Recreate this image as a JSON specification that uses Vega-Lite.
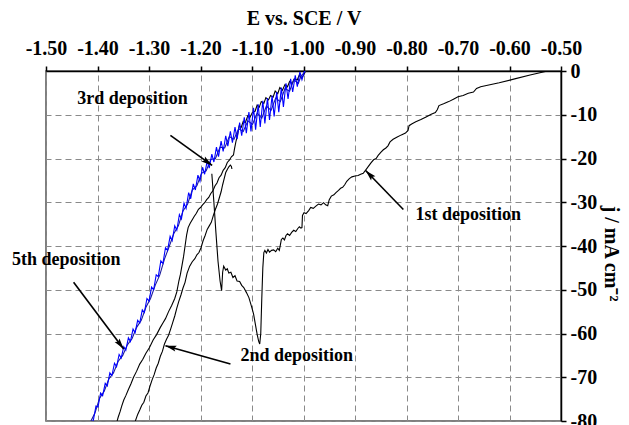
{
  "$schema": "https://vega.github.io/schema/vega-lite/v6.json",
  "autosize": "none",
  "width": 515,
  "height": 350,
  "padding": {"left": 46, "top": 71, "right": 68, "bottom": 4},
  "background": "white",
  "config": {
    "view": {"stroke": "#555555", "strokeWidth": 1.5},
    "axis": {
      "labelFont": "Liberation Serif", "labelFontSize": 20, "labelFontWeight": "bold", "labelColor": "black",
      "titleFont": "Liberation Serif", "titleFontSize": 20, "titleFontWeight": "bold", "titleColor": "black",
      "domainColor": "black", "domainWidth": 1.5, "tickColor": "black", "tickWidth": 1.5, "tickSize": 5,
      "grid": true, "gridColor": "#8a8a8a", "gridDash": [6, 4], "gridWidth": 1, "labelOverlap": false, "labelFlush": false, "labelBound": false
    }
  },
  "datasets": {
    "curves": [
      {"s":"1st","i":0,"E":-1.178,"j":-23.5},{"s":"1st","i":1,"E":-1.174,"j":-30},{"s":"1st","i":2,"E":-1.170,"j":-37},{"s":"1st","i":3,"E":-1.166,"j":-43.5},{"s":"1st","i":4,"E":-1.162,"j":-48},{"s":"1st","i":5,"E":-1.159,"j":-50.2},{"s":"1st","i":6,"E":-1.157,"j":-46},{"s":"1st","i":7,"E":-1.155,"j":-44.6},{"s":"1st","i":8,"E":-1.151,"j":-45.5},{"s":"1st","i":9,"E":-1.148,"j":-45.2},{"s":"1st","i":10,"E":-1.145,"j":-46.2},{"s":"1st","i":11,"E":-1.141,"j":-46.0},{"s":"1st","i":12,"E":-1.137,"j":-47.2},{"s":"1st","i":13,"E":-1.133,"j":-46.8},{"s":"1st","i":14,"E":-1.129,"j":-48.0},{"s":"1st","i":15,"E":-1.124,"j":-48.1},{"s":"1st","i":16,"E":-1.120,"j":-49.0},{"s":"1st","i":17,"E":-1.116,"j":-49.5},{"s":"1st","i":18,"E":-1.111,"j":-50.6},{"s":"1st","i":19,"E":-1.106,"j":-51.8},{"s":"1st","i":20,"E":-1.101,"j":-53.8},{"s":"1st","i":21,"E":-1.097,"j":-55.5},{"s":"1st","i":22,"E":-1.093,"j":-58.2},{"s":"1st","i":23,"E":-1.090,"j":-60.2},{"s":"1st","i":24,"E":-1.087,"j":-61.8},{"s":"1st","i":25,"E":-1.085,"j":-62.4},{"s":"1st","i":26,"E":-1.083,"j":-60.0},{"s":"1st","i":27,"E":-1.081,"j":-52},{"s":"1st","i":28,"E":-1.079,"j":-45},{"s":"1st","i":29,"E":-1.077,"j":-41.5},{"s":"1st","i":30,"E":-1.075,"j":-41.0},{"s":"1st","i":31,"E":-1.072,"j":-41.6},{"s":"1st","i":32,"E":-1.069,"j":-40.8},{"s":"1st","i":33,"E":-1.066,"j":-41.4},{"s":"1st","i":34,"E":-1.062,"j":-41.0},{"s":"1st","i":35,"E":-1.058,"j":-40.9},{"s":"1st","i":36,"E":-1.054,"j":-41.3},{"s":"1st","i":37,"E":-1.050,"j":-40.5},{"s":"1st","i":38,"E":-1.047,"j":-41.0},{"s":"1st","i":39,"E":-1.045,"j":-39.8},{"s":"1st","i":40,"E":-1.043,"j":-38.5},{"s":"1st","i":41,"E":-1.040,"j":-38.2},{"s":"1st","i":42,"E":-1.037,"j":-38.6},{"s":"1st","i":43,"E":-1.034,"j":-37.6},{"s":"1st","i":44,"E":-1.031,"j":-37.2},{"s":"1st","i":45,"E":-1.027,"j":-37.6},{"s":"1st","i":46,"E":-1.023,"j":-36.9},{"s":"1st","i":47,"E":-1.019,"j":-36.4},{"s":"1st","i":48,"E":-1.015,"j":-36.7},{"s":"1st","i":49,"E":-1.011,"j":-36.0},{"s":"1st","i":50,"E":-1.008,"j":-35.6},{"s":"1st","i":51,"E":-1.005,"j":-35.9},{"s":"1st","i":52,"E":-1.003,"j":-35.8},{"s":"1st","i":53,"E":-1.002,"j":-33.0},{"s":"1st","i":54,"E":-0.999,"j":-32.4},{"s":"1st","i":55,"E":-0.995,"j":-32.6},{"s":"1st","i":56,"E":-0.990,"j":-31.9},{"s":"1st","i":57,"E":-0.986,"j":-31.2},{"s":"1st","i":58,"E":-0.981,"j":-31.4},{"s":"1st","i":59,"E":-0.976,"j":-30.9},{"s":"1st","i":60,"E":-0.971,"j":-30.4},{"s":"1st","i":61,"E":-0.966,"j":-30.6},{"s":"1st","i":62,"E":-0.961,"j":-30.1},{"s":"1st","i":63,"E":-0.957,"j":-30.6},{"s":"1st","i":64,"E":-0.953,"j":-30.8},{"s":"1st","i":65,"E":-0.950,"j":-29.4},{"s":"1st","i":66,"E":-0.946,"j":-28.6},{"s":"1st","i":67,"E":-0.941,"j":-28.3},{"s":"1st","i":68,"E":-0.937,"j":-27.8},{"s":"1st","i":69,"E":-0.932,"j":-27.3},{"s":"1st","i":70,"E":-0.928,"j":-26.8},{"s":"1st","i":71,"E":-0.924,"j":-26.6},{"s":"1st","i":72,"E":-0.920,"j":-26.0},{"s":"1st","i":73,"E":-0.916,"j":-25.2},{"s":"1st","i":74,"E":-0.911,"j":-24.6},{"s":"1st","i":75,"E":-0.906,"j":-24.2},{"s":"1st","i":76,"E":-0.900,"j":-24.0},{"s":"1st","i":77,"E":-0.894,"j":-23.9},{"s":"1st","i":78,"E":-0.889,"j":-23.6},{"s":"1st","i":79,"E":-0.884,"j":-23.4},{"s":"1st","i":80,"E":-0.879,"j":-22.6},{"s":"1st","i":81,"E":-0.874,"j":-21.8},{"s":"1st","i":82,"E":-0.869,"j":-21.0},{"s":"1st","i":83,"E":-0.864,"j":-20.3},{"s":"1st","i":84,"E":-0.859,"j":-20.0},{"s":"1st","i":85,"E":-0.855,"j":-19.3},{"s":"1st","i":86,"E":-0.850,"j":-18.6},{"s":"1st","i":87,"E":-0.845,"j":-18.0},{"s":"1st","i":88,"E":-0.840,"j":-17.6},{"s":"1st","i":89,"E":-0.836,"j":-17.1},{"s":"1st","i":90,"E":-0.832,"j":-16.2},{"s":"1st","i":91,"E":-0.826,"j":-15.6},{"s":"1st","i":92,"E":-0.818,"j":-15.1},{"s":"1st","i":93,"E":-0.810,"j":-14.6},{"s":"1st","i":94,"E":-0.802,"j":-14.2},{"s":"1st","i":95,"E":-0.797,"j":-13.6},{"s":"1st","i":96,"E":-0.795,"j":-12.5},{"s":"1st","i":97,"E":-0.790,"j":-12.1},{"s":"1st","i":98,"E":-0.782,"j":-11.6},{"s":"1st","i":99,"E":-0.772,"j":-11.1},{"s":"1st","i":100,"E":-0.762,"j":-10.5},{"s":"1st","i":101,"E":-0.752,"j":-9.9},{"s":"1st","i":102,"E":-0.744,"j":-9.5},{"s":"1st","i":103,"E":-0.740,"j":-8.8},{"s":"1st","i":104,"E":-0.737,"j":-7.9},{"s":"1st","i":105,"E":-0.728,"j":-7.5},{"s":"1st","i":106,"E":-0.718,"j":-7.0},{"s":"1st","i":107,"E":-0.708,"j":-6.4},{"s":"1st","i":108,"E":-0.700,"j":-5.9},{"s":"1st","i":109,"E":-0.690,"j":-5.6},{"s":"1st","i":110,"E":-0.680,"j":-5.1},{"s":"1st","i":111,"E":-0.670,"j":-4.8},{"s":"1st","i":112,"E":-0.664,"j":-4.0},{"s":"1st","i":113,"E":-0.656,"j":-3.6},{"s":"1st","i":114,"E":-0.620,"j":-2.7},{"s":"1st","i":115,"E":-0.590,"j":-1.8},{"s":"1st","i":116,"E":-0.560,"j":-0.9},{"s":"1st","i":117,"E":-0.526,"j":0},

      {"s":"2nd","i":0,"E":-1.328,"j":-80.5},{"s":"2nd","i":1,"E":-1.322,"j":-78.5},{"s":"2nd","i":2,"E":-1.318,"j":-77.5},{"s":"2nd","i":3,"E":-1.314,"j":-76.4},{"s":"2nd","i":4,"E":-1.310,"j":-75.7},{"s":"2nd","i":5,"E":-1.306,"j":-74.3},{"s":"2nd","i":6,"E":-1.302,"j":-73.6},{"s":"2nd","i":7,"E":-1.298,"j":-72.0},{"s":"2nd","i":8,"E":-1.294,"j":-70.6},{"s":"2nd","i":9,"E":-1.290,"j":-69.4},{"s":"2nd","i":10,"E":-1.286,"j":-67.9},{"s":"2nd","i":11,"E":-1.282,"j":-66.8},{"s":"2nd","i":12,"E":-1.278,"j":-65.2},{"s":"2nd","i":13,"E":-1.274,"j":-64.1},{"s":"2nd","i":14,"E":-1.270,"j":-62.4},{"s":"2nd","i":15,"E":-1.266,"j":-61.3},{"s":"2nd","i":16,"E":-1.262,"j":-60.4},{"s":"2nd","i":17,"E":-1.258,"j":-59.0},{"s":"2nd","i":18,"E":-1.254,"j":-57.5},{"s":"2nd","i":19,"E":-1.250,"j":-56.0},{"s":"2nd","i":20,"E":-1.246,"j":-54.2},{"s":"2nd","i":21,"E":-1.242,"j":-52.6},{"s":"2nd","i":22,"E":-1.238,"j":-51.2},{"s":"2nd","i":23,"E":-1.234,"j":-49.6},{"s":"2nd","i":24,"E":-1.230,"j":-48.3},{"s":"2nd","i":25,"E":-1.226,"j":-46.2},{"s":"2nd","i":26,"E":-1.221,"j":-44.6},{"s":"2nd","i":27,"E":-1.216,"j":-43.6},{"s":"2nd","i":28,"E":-1.211,"j":-42.9},{"s":"2nd","i":29,"E":-1.207,"j":-42.0},{"s":"2nd","i":30,"E":-1.203,"j":-41.5},{"s":"2nd","i":31,"E":-1.199,"j":-40.4},{"s":"2nd","i":32,"E":-1.195,"j":-38.8},{"s":"2nd","i":33,"E":-1.191,"j":-37.6},{"s":"2nd","i":34,"E":-1.187,"j":-36.2},{"s":"2nd","i":35,"E":-1.183,"j":-35.4},{"s":"2nd","i":36,"E":-1.179,"j":-34.6},{"s":"2nd","i":37,"E":-1.175,"j":-33.0},{"s":"2nd","i":38,"E":-1.171,"j":-31.6},{"s":"2nd","i":39,"E":-1.167,"j":-30.4},{"s":"2nd","i":40,"E":-1.163,"j":-28.8},{"s":"2nd","i":41,"E":-1.160,"j":-27.6},{"s":"2nd","i":42,"E":-1.157,"j":-26.0},{"s":"2nd","i":43,"E":-1.154,"j":-24.6},{"s":"2nd","i":44,"E":-1.151,"j":-23.2},{"s":"2nd","i":45,"E":-1.148,"j":-22.5},{"s":"2nd","i":46,"E":-1.145,"j":-21.9},{"s":"2nd","i":47,"E":-1.142,"j":-21.5},{"s":"2nd","i":48,"E":-1.140,"j":-21.8},{"s":"2nd","i":49,"E":-1.139,"j":-22.4},

      {"s":"3rd","i":0,"E":-0.996,"j":0},{"s":"3rd","i":1,"E":-0.999,"j":-0.8},{"s":"3rd","i":2,"E":-1.004,"j":-1.6},{"s":"3rd","i":3,"E":-1.008,"j":-0.9},{"s":"3rd","i":4,"E":-1.012,"j":-2.0},{"s":"3rd","i":5,"E":-1.018,"j":-1.8},{"s":"3rd","i":6,"E":-1.022,"j":-2.9},{"s":"3rd","i":7,"E":-1.027,"j":-2.4},{"s":"3rd","i":8,"E":-1.031,"j":-3.6},{"s":"3rd","i":9,"E":-1.036,"j":-3.1},{"s":"3rd","i":10,"E":-1.041,"j":-4.4},{"s":"3rd","i":11,"E":-1.046,"j":-3.8},{"s":"3rd","i":12,"E":-1.050,"j":-5.2},{"s":"3rd","i":13,"E":-1.055,"j":-4.6},{"s":"3rd","i":14,"E":-1.059,"j":-6.0},{"s":"3rd","i":15,"E":-1.064,"j":-5.6},{"s":"3rd","i":16,"E":-1.068,"j":-6.6},{"s":"3rd","i":17,"E":-1.073,"j":-6.1},{"s":"3rd","i":18,"E":-1.077,"j":-7.4},{"s":"3rd","i":19,"E":-1.082,"j":-7.0},{"s":"3rd","i":20,"E":-1.086,"j":-8.3},{"s":"3rd","i":21,"E":-1.090,"j":-7.8},{"s":"3rd","i":22,"E":-1.094,"j":-9.2},{"s":"3rd","i":23,"E":-1.099,"j":-9.4},{"s":"3rd","i":24,"E":-1.104,"j":-10.6},{"s":"3rd","i":25,"E":-1.108,"j":-10.2},{"s":"3rd","i":26,"E":-1.113,"j":-11.8},{"s":"3rd","i":27,"E":-1.117,"j":-11.5},{"s":"3rd","i":28,"E":-1.121,"j":-12.9},{"s":"3rd","i":29,"E":-1.125,"j":-12.6},{"s":"3rd","i":30,"E":-1.128,"j":-14.5},{"s":"3rd","i":31,"E":-1.131,"j":-16.0},{"s":"3rd","i":32,"E":-1.134,"j":-17.8},{"s":"3rd","i":33,"E":-1.136,"j":-19.2},{"s":"3rd","i":34,"E":-1.140,"j":-19.6},{"s":"3rd","i":35,"E":-1.144,"j":-20.4},{"s":"3rd","i":36,"E":-1.148,"j":-20.9},{"s":"3rd","i":37,"E":-1.152,"j":-22.1},{"s":"3rd","i":38,"E":-1.156,"j":-22.7},{"s":"3rd","i":39,"E":-1.160,"j":-23.8},{"s":"3rd","i":40,"E":-1.164,"j":-24.4},{"s":"3rd","i":41,"E":-1.168,"j":-25.6},{"s":"3rd","i":42,"E":-1.172,"j":-26.3},{"s":"3rd","i":43,"E":-1.176,"j":-27.4},{"s":"3rd","i":44,"E":-1.180,"j":-28.0},{"s":"3rd","i":45,"E":-1.184,"j":-28.9},{"s":"3rd","i":46,"E":-1.188,"j":-29.4},{"s":"3rd","i":47,"E":-1.192,"j":-30.1},{"s":"3rd","i":48,"E":-1.196,"j":-30.6},{"s":"3rd","i":49,"E":-1.200,"j":-31.2},{"s":"3rd","i":50,"E":-1.204,"j":-31.6},{"s":"3rd","i":51,"E":-1.208,"j":-32.5},{"s":"3rd","i":52,"E":-1.212,"j":-33.2},{"s":"3rd","i":53,"E":-1.216,"j":-34.0},{"s":"3rd","i":54,"E":-1.220,"j":-34.8},{"s":"3rd","i":55,"E":-1.224,"j":-35.8},{"s":"3rd","i":56,"E":-1.227,"j":-37.5},{"s":"3rd","i":57,"E":-1.230,"j":-40.0},{"s":"3rd","i":58,"E":-1.233,"j":-42.5},{"s":"3rd","i":59,"E":-1.236,"j":-44.5},{"s":"3rd","i":60,"E":-1.239,"j":-46.5},{"s":"3rd","i":61,"E":-1.242,"j":-48.0},{"s":"3rd","i":62,"E":-1.246,"j":-50.5},{"s":"3rd","i":63,"E":-1.250,"j":-52.0},{"s":"3rd","i":64,"E":-1.256,"j":-53.6},{"s":"3rd","i":65,"E":-1.262,"j":-55.0},{"s":"3rd","i":66,"E":-1.268,"j":-56.6},{"s":"3rd","i":67,"E":-1.273,"j":-57.6},{"s":"3rd","i":68,"E":-1.278,"j":-58.6},{"s":"3rd","i":69,"E":-1.285,"j":-60.2},{"s":"3rd","i":70,"E":-1.292,"j":-61.5},{"s":"3rd","i":71,"E":-1.299,"j":-63.2},{"s":"3rd","i":72,"E":-1.306,"j":-64.5},{"s":"3rd","i":73,"E":-1.312,"j":-65.9},{"s":"3rd","i":74,"E":-1.318,"j":-67.0},{"s":"3rd","i":75,"E":-1.324,"j":-68.6},{"s":"3rd","i":76,"E":-1.330,"j":-70.0},{"s":"3rd","i":77,"E":-1.335,"j":-71.5},{"s":"3rd","i":78,"E":-1.340,"j":-72.8},{"s":"3rd","i":79,"E":-1.345,"j":-74.2},{"s":"3rd","i":80,"E":-1.349,"j":-75.2},{"s":"3rd","i":81,"E":-1.353,"j":-76.6},{"s":"3rd","i":82,"E":-1.356,"j":-77.8},{"s":"3rd","i":83,"E":-1.360,"j":-79.2},{"s":"3rd","i":84,"E":-1.363,"j":-80.5},

      {"s":"4th","i":0,"E":-0.996,"j":0},{"s":"4th","i":1,"E":-1.005,"j":-1.2},{"s":"4th","i":2,"E":-1.010,"j":-2.8},{"s":"4th","i":3,"E":-1.019,"j":-2.0},{"s":"4th","i":4,"E":-1.027,"j":-4.6},{"s":"4th","i":5,"E":-1.036,"j":-4.0},{"s":"4th","i":6,"E":-1.045,"j":-7.0},{"s":"4th","i":7,"E":-1.054,"j":-6.2},{"s":"4th","i":8,"E":-1.063,"j":-9.0},{"s":"4th","i":9,"E":-1.072,"j":-8.0},{"s":"4th","i":10,"E":-1.081,"j":-10.8},{"s":"4th","i":11,"E":-1.090,"j":-9.6},{"s":"4th","i":12,"E":-1.099,"j":-12.2},{"s":"4th","i":13,"E":-1.108,"j":-11.4},{"s":"4th","i":14,"E":-1.117,"j":-13.8},{"s":"4th","i":15,"E":-1.126,"j":-13.2},{"s":"4th","i":16,"E":-1.135,"j":-15.6},{"s":"4th","i":17,"E":-1.144,"j":-15.0},{"s":"4th","i":18,"E":-1.153,"j":-17.6},{"s":"4th","i":19,"E":-1.162,"j":-17.4},{"s":"4th","i":20,"E":-1.171,"j":-20.0},{"s":"4th","i":21,"E":-1.180,"j":-20.2},{"s":"4th","i":22,"E":-1.189,"j":-22.8},{"s":"4th","i":23,"E":-1.198,"j":-23.4},{"s":"4th","i":24,"E":-1.207,"j":-26.2},{"s":"4th","i":25,"E":-1.216,"j":-27.2},{"s":"4th","i":26,"E":-1.225,"j":-30.4},{"s":"4th","i":27,"E":-1.234,"j":-32.0},{"s":"4th","i":28,"E":-1.243,"j":-35.4},{"s":"4th","i":29,"E":-1.252,"j":-37.2},{"s":"4th","i":30,"E":-1.261,"j":-40.2},{"s":"4th","i":31,"E":-1.270,"j":-43.0},{"s":"4th","i":32,"E":-1.279,"j":-46.6},{"s":"4th","i":33,"E":-1.288,"j":-49.0},{"s":"4th","i":34,"E":-1.297,"j":-52.0},{"s":"4th","i":35,"E":-1.306,"j":-54.0},{"s":"4th","i":36,"E":-1.315,"j":-57.0},{"s":"4th","i":37,"E":-1.324,"j":-58.6},{"s":"4th","i":38,"E":-1.333,"j":-61.2},{"s":"4th","i":39,"E":-1.342,"j":-62.6},{"s":"4th","i":40,"E":-1.351,"j":-65.0},{"s":"4th","i":41,"E":-1.360,"j":-66.4},{"s":"4th","i":42,"E":-1.369,"j":-69.0},{"s":"4th","i":43,"E":-1.378,"j":-70.4},{"s":"4th","i":44,"E":-1.387,"j":-73.2},{"s":"4th","i":45,"E":-1.396,"j":-74.8},{"s":"4th","i":46,"E":-1.405,"j":-78.2},{"s":"4th","i":47,"E":-1.412,"j":-79.8},{"s":"4th","i":48,"E":-1.416,"j":-81},

      {"s":"5th","i":0,"E":-0.998,"j":0},{"s":"5th","i":1,"E":-1.003,"j":-2.0},{"s":"5th","i":2,"E":-1.007,"j":-0.2},{"s":"5th","i":3,"E":-1.012,"j":-3.6},{"s":"5th","i":4,"E":-1.016,"j":-1.0},{"s":"5th","i":5,"E":-1.021,"j":-4.8},{"s":"5th","i":6,"E":-1.025,"j":-1.8},{"s":"5th","i":7,"E":-1.030,"j":-6.4},{"s":"5th","i":8,"E":-1.034,"j":-2.8},{"s":"5th","i":9,"E":-1.039,"j":-8.2},{"s":"5th","i":10,"E":-1.043,"j":-3.8},{"s":"5th","i":11,"E":-1.048,"j":-9.4},{"s":"5th","i":12,"E":-1.052,"j":-4.8},{"s":"5th","i":13,"E":-1.057,"j":-10.4},{"s":"5th","i":14,"E":-1.061,"j":-5.6},{"s":"5th","i":15,"E":-1.066,"j":-11.2},{"s":"5th","i":16,"E":-1.070,"j":-6.2},{"s":"5th","i":17,"E":-1.075,"j":-12.0},{"s":"5th","i":18,"E":-1.079,"j":-6.8},{"s":"5th","i":19,"E":-1.084,"j":-12.8},{"s":"5th","i":20,"E":-1.088,"j":-7.6},{"s":"5th","i":21,"E":-1.093,"j":-13.4},{"s":"5th","i":22,"E":-1.097,"j":-8.4},{"s":"5th","i":23,"E":-1.102,"j":-13.8},{"s":"5th","i":24,"E":-1.106,"j":-9.4},{"s":"5th","i":25,"E":-1.111,"j":-14.2},{"s":"5th","i":26,"E":-1.115,"j":-10.6},{"s":"5th","i":27,"E":-1.120,"j":-14.8},{"s":"5th","i":28,"E":-1.124,"j":-11.8},{"s":"5th","i":29,"E":-1.129,"j":-15.6},{"s":"5th","i":30,"E":-1.133,"j":-12.8},{"s":"5th","i":31,"E":-1.138,"j":-16.4},{"s":"5th","i":32,"E":-1.142,"j":-13.8},{"s":"5th","i":33,"E":-1.147,"j":-17.2},{"s":"5th","i":34,"E":-1.151,"j":-14.8},{"s":"5th","i":35,"E":-1.156,"j":-18.4},{"s":"5th","i":36,"E":-1.160,"j":-16.0},{"s":"5th","i":37,"E":-1.165,"j":-19.6},{"s":"5th","i":38,"E":-1.169,"j":-17.4},{"s":"5th","i":39,"E":-1.174,"j":-20.8},{"s":"5th","i":40,"E":-1.178,"j":-19.0},{"s":"5th","i":41,"E":-1.183,"j":-22.2},{"s":"5th","i":42,"E":-1.187,"j":-20.6},{"s":"5th","i":43,"E":-1.192,"j":-23.6},{"s":"5th","i":44,"E":-1.196,"j":-22.0},{"s":"5th","i":45,"E":-1.201,"j":-25.2},{"s":"5th","i":46,"E":-1.205,"j":-23.8},{"s":"5th","i":47,"E":-1.210,"j":-27.2},{"s":"5th","i":48,"E":-1.214,"j":-25.8},{"s":"5th","i":49,"E":-1.219,"j":-29.2},{"s":"5th","i":50,"E":-1.223,"j":-27.8},{"s":"5th","i":51,"E":-1.228,"j":-31.4},{"s":"5th","i":52,"E":-1.232,"j":-30.2},{"s":"5th","i":53,"E":-1.237,"j":-33.8},{"s":"5th","i":54,"E":-1.241,"j":-32.8},{"s":"5th","i":55,"E":-1.246,"j":-36.4},{"s":"5th","i":56,"E":-1.250,"j":-35.4},{"s":"5th","i":57,"E":-1.255,"j":-38.8},{"s":"5th","i":58,"E":-1.259,"j":-37.8},{"s":"5th","i":59,"E":-1.264,"j":-41.0},{"s":"5th","i":60,"E":-1.268,"j":-40.4},{"s":"5th","i":61,"E":-1.273,"j":-44.0},{"s":"5th","i":62,"E":-1.277,"j":-43.4},{"s":"5th","i":63,"E":-1.282,"j":-47.0},{"s":"5th","i":64,"E":-1.286,"j":-46.6},{"s":"5th","i":65,"E":-1.291,"j":-50.0},{"s":"5th","i":66,"E":-1.295,"j":-49.4},{"s":"5th","i":67,"E":-1.300,"j":-52.6},{"s":"5th","i":68,"E":-1.304,"j":-52.0},{"s":"5th","i":69,"E":-1.309,"j":-55.2},{"s":"5th","i":70,"E":-1.313,"j":-54.6},{"s":"5th","i":71,"E":-1.318,"j":-57.6},{"s":"5th","i":72,"E":-1.322,"j":-57.0},{"s":"5th","i":73,"E":-1.327,"j":-59.8},{"s":"5th","i":74,"E":-1.331,"j":-59.0},{"s":"5th","i":75,"E":-1.336,"j":-61.8},{"s":"5th","i":76,"E":-1.340,"j":-61.0},{"s":"5th","i":77,"E":-1.345,"j":-63.8},{"s":"5th","i":78,"E":-1.349,"j":-63.0},{"s":"5th","i":79,"E":-1.354,"j":-65.6},{"s":"5th","i":80,"E":-1.358,"j":-64.8},{"s":"5th","i":81,"E":-1.363,"j":-67.6},{"s":"5th","i":82,"E":-1.367,"j":-66.8},{"s":"5th","i":83,"E":-1.372,"j":-69.6},{"s":"5th","i":84,"E":-1.376,"j":-69.0},{"s":"5th","i":85,"E":-1.381,"j":-72.0},{"s":"5th","i":86,"E":-1.385,"j":-71.4},{"s":"5th","i":87,"E":-1.390,"j":-74.2},{"s":"5th","i":88,"E":-1.394,"j":-73.6},{"s":"5th","i":89,"E":-1.399,"j":-76.8},{"s":"5th","i":90,"E":-1.403,"j":-76.6},{"s":"5th","i":91,"E":-1.408,"j":-79.8},{"s":"5th","i":92,"E":-1.412,"j":-80.6}
    ],
    "labels": [
      {"label": "3rd deposition", "E": -1.332, "j": -6.3},
      {"label": "5th deposition", "E": -1.4605, "j": -43.3},
      {"label": "2nd deposition", "E": -1.013, "j": -65.1},
      {"label": "1st deposition", "E": -0.680, "j": -32.8}
    ],
    "arrows": [
      {"name": "3rd", "E": -1.2584, "j": -14.72, "E2": -1.1774, "j2": -21.58},
      {"name": "5th", "E": -1.4464, "j": -48.29, "E2": -1.3492, "j2": -63.54},
      {"name": "2nd", "E": -1.1418, "j": -66.97, "E2": -1.2681, "j2": -62.79},
      {"name": "1st", "E": -0.8061, "j": -31.65, "E2": -0.8794, "j2": -22.73}
    ]
  },
  "encoding": {
    "x": {
      "field": "E", "type": "quantitative",
      "scale": {"domain": [-1.5, -0.5], "nice": false, "zero": false},
      "axis": {"orient": "top", "title": "E vs. SCE / V", "values": [-1.5, -1.4, -1.3, -1.2, -1.1, -1.0, -0.9, -0.8, -0.7, -0.6, -0.5], "format": ".2f", "labelExpr": "replace(datum.label, '−', '-')", "labelPadding": 8, "titlePadding": 10}
    },
    "y": {
      "field": "j", "type": "quantitative",
      "scale": {"domain": [-80, 0], "nice": false, "zero": false},
      "axis": {"orient": "right", "title": "j / mA cm⁻²", "values": [-80, -70, -60, -50, -40, -30, -20, -10, 0], "format": "d", "labelExpr": "replace(datum.label, '−', '-')", "labelPadding": 4, "titlePadding": 4, "titleAngle": 90, "titleY": 182}
    }
  },
  "layer": [
    {
      "data": {"name": "curves"},
      "mark": {"type": "line", "strokeWidth": 1.1, "clip": true},
      "encoding": {
        "color": {"field": "s", "type": "nominal", "scale": {"domain": ["1st", "2nd", "3rd", "4th", "5th"], "range": ["#000000", "#000000", "#000000", "#1a1a9a", "#0000ff"]}, "legend": null},
        "order": {"field": "i", "type": "quantitative"}
      }
    },
    {
      "data": {"name": "arrows"},
      "mark": {"type": "rule", "color": "black", "strokeWidth": 1.6},
      "encoding": {"x2": {"field": "E2"}, "y2": {"field": "j2"}}
    },
    {
      "data": {"name": "arrows"},
      "transform": [{"filter": "datum.name === '3rd'"}],
      "mark": {"type": "point", "shape": "M0,0L-0.3,1.1L0,0.9L0.3,1.1Z", "size": 400, "filled": true, "color": "black", "opacity": 1, "angle": 125.7},
      "encoding": {"x": {"field": "E2", "type": "quantitative"}, "y": {"field": "j2", "type": "quantitative"}}
    },
    {
      "data": {"name": "arrows"},
      "transform": [{"filter": "datum.name === '5th'"}],
      "mark": {"type": "point", "shape": "M0,0L-0.3,1.1L0,0.9L0.3,1.1Z", "size": 400, "filled": true, "color": "black", "opacity": 1, "angle": 143.1},
      "encoding": {"x": {"field": "E2", "type": "quantitative"}, "y": {"field": "j2", "type": "quantitative"}}
    },
    {
      "data": {"name": "arrows"},
      "transform": [{"filter": "datum.name === '2nd'"}],
      "mark": {"type": "point", "shape": "M0,0L-0.3,1.1L0,0.9L0.3,1.1Z", "size": 400, "filled": true, "color": "black", "opacity": 1, "angle": 285.7},
      "encoding": {"x": {"field": "E2", "type": "quantitative"}, "y": {"field": "j2", "type": "quantitative"}}
    },
    {
      "data": {"name": "arrows"},
      "transform": [{"filter": "datum.name === '1st'"}],
      "mark": {"type": "point", "shape": "M0,0L-0.3,1.1L0,0.9L0.3,1.1Z", "size": 400, "filled": true, "color": "black", "opacity": 1, "angle": 316},
      "encoding": {"x": {"field": "E2", "type": "quantitative"}, "y": {"field": "j2", "type": "quantitative"}}
    },
    {
      "data": {"name": "labels"},
      "mark": {"type": "text", "font": "Liberation Serif", "fontSize": 18, "fontWeight": "bold", "color": "black", "align": "center", "baseline": "middle"},
      "encoding": {"text": {"field": "label"}}
    }
  ]
}
